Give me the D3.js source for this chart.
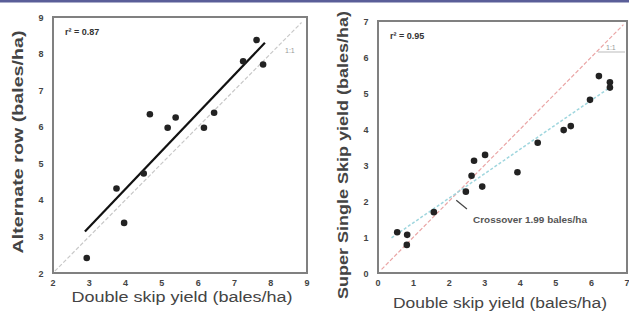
<!DOCTYPE html>
<html>
<head>
<meta charset="utf-8">
<script src="https://cdn.jsdelivr.net/npm/d3@7/dist/d3.min.js"></script>
<style>
  body { margin: 0; background: #fff; }
  svg { display: block; font-family: "Liberation Sans", Arial, sans-serif; }
</style>
</head>
<body>
<svg id="chart" width="629" height="320"></svg>
<script>
// left panel: double skip vs alternate row
var altX = [2.93, 3.75, 3.96, 4.5, 4.67, 5.16, 5.38, 6.16, 6.44, 7.24, 7.61, 7.79];
var altY = [2.41, 4.31, 3.37, 4.72, 6.34, 5.97, 6.25, 5.97, 6.38, 7.79, 8.37, 7.70];
var altFit = [0.14, 1.04];        // intercept, slope
var altFitRange = [2.88, 7.84];
var altTicks = [2, 3, 4, 5, 6, 7, 8, 9];

// right panel: double skip vs super single skip
var sssX = [0.54, 0.82, 0.81, 1.57, 2.47, 2.63, 2.70, 2.93, 3.01, 3.92, 4.49, 5.22, 5.42, 5.96, 6.21, 6.52, 6.52];
var sssY = [1.13, 1.06, 0.78, 1.69, 2.26, 2.70, 3.12, 2.40, 3.28, 2.80, 3.62, 3.97, 4.08, 4.81, 5.47, 5.30, 5.15];
var sssFit = [0.72, 0.68];
var sssFitRange = [0.38, 6.58];
var sssTicks = [0, 1, 2, 3, 4, 5, 6, 7];

var svg = d3.select('#chart');

// top band
svg.append('rect').attr('x', 0).attr('y', 0).attr('width', 629).attr('height', 2.5).attr('fill', '#5a5e98');

function drawPanel(opts) {
    var x = d3.scaleLinear().domain(opts.domain).range(opts.xRange);
    var y = d3.scaleLinear().domain(opts.domain).range(opts.yRange);
    var g = svg.append('g');

    // 1:1 line
    g.append('line')
        .attr('x1', x(opts.oneToOne[0])).attr('y1', y(opts.oneToOne[0]))
        .attr('x2', x(opts.oneToOne[1])).attr('y2', y(opts.oneToOne[1]))
        .attr('stroke', opts.oneColor).attr('stroke-width', 1.2)
        .attr('stroke-dasharray', '4,2');
    g.append('text')
        .attr('x', opts.oneLabel[0]).attr('y', opts.oneLabel[1])
        .attr('font-size', 7).attr('fill', '#999').text('1:1');

    // fitted line
    var fit = opts.fit;
    g.append('line')
        .attr('x1', x(opts.fitRange[0])).attr('y1', y(fit[0] + fit[1] * opts.fitRange[0]))
        .attr('x2', x(opts.fitRange[1])).attr('y2', y(fit[0] + fit[1] * opts.fitRange[1]))
        .attr('stroke', opts.fitColor).attr('stroke-width', opts.fitWidth)
        .attr('stroke-dasharray', opts.fitDash || null);

    // points
    g.selectAll('circle.pt')
        .data(opts.xs.map(function (d, i) { return [d, opts.ys[i]]; }))
        .enter().append('circle')
        .attr('class', 'pt')
        .attr('cx', function (d) { return x(d[0]); })
        .attr('cy', function (d) { return y(d[1]); })
        .attr('r', 3.3)
        .attr('fill', '#222');

    // frame
    g.append('rect')
        .attr('x', opts.xRange[0]).attr('y', opts.yRange[1])
        .attr('width', opts.xRange[1] - opts.xRange[0])
        .attr('height', opts.yRange[0] - opts.yRange[1])
        .attr('fill', 'none').attr('stroke', '#808080').attr('stroke-width', 2);

    // tick labels
    g.selectAll('text.xt').data(opts.ticks).enter().append('text')
        .attr('x', function (d) { return x(d); })
        .attr('y', opts.yRange[0] + 13)
        .attr('text-anchor', 'middle').attr('font-size', 9).attr('font-weight', 'bold')
        .attr('fill', '#444').text(function (d) { return d; });
    g.selectAll('text.yt').data(opts.ticks).enter().append('text')
        .attr('x', opts.xRange[0] - 12)
        .attr('y', function (d) { return y(d) + 3.5; })
        .attr('text-anchor', 'middle').attr('font-size', 9).attr('font-weight', 'bold')
        .attr('fill', '#444').text(function (d) { return d; });

    // r squared
    g.append('text')
        .attr('x', opts.xRange[0] + 12).attr('y', opts.yRange[1] + 18)
        .attr('font-size', 9).attr('font-weight', 'bold').attr('fill', '#333')
        .text(opts.r2);

    // axis titles
    g.append('text')
        .attr('x', opts.xTitle[0]).attr('y', opts.xTitle[1])
        .attr('text-anchor', 'middle').attr('font-size', 14).attr('fill', '#444')
        .attr('textLength', opts.xTitle[2]).attr('lengthAdjust', 'spacingAndGlyphs')
        .text('Double skip yield (bales/ha)');
    g.append('text')
        .attr('transform', 'translate(' + opts.yTitle[0] + ',' + opts.yTitle[1] + ') rotate(-90)')
        .attr('text-anchor', 'middle').attr('font-size', 15).attr('font-weight', 'bold').attr('fill', '#444')
        .attr('textLength', opts.yTitle[2]).attr('lengthAdjust', 'spacingAndGlyphs')
        .text(opts.yLabel);
    return { x: x, y: y, g: g };
}

drawPanel({
    domain: [2, 9], xRange: [53, 307], yRange: [273, 17],
    xs: altX, ys: altY, fit: altFit, fitRange: altFitRange,
    fitColor: '#111', fitWidth: 2.2,
    oneToOne: [2.05, 8.85], oneColor: '#c8c8c8', oneLabel: [285, 53],
    ticks: altTicks, r2: 'r\u00b2 = 0.87',
    xTitle: [182, 302, 221], yTitle: [23, 142, 223],
    yLabel: 'Alternate row (bales/ha)'
});

var right = drawPanel({
    domain: [0, 7], xRange: [378, 627], yRange: [273, 21],
    xs: sssX, ys: sssY, fit: sssFit, fitRange: sssFitRange,
    fitColor: '#9fd6de', fitWidth: 1.5, fitDash: '3,2',
    oneToOne: [0.1, 6.9], oneColor: '#eaa5a5', oneLabel: [606, 50],
    ticks: sssTicks, r2: 'r\u00b2 = 0.95',
    xTitle: [500, 308, 214], yTitle: [348, 155, 288],
    yLabel: 'Super Single Skip yield (bales/ha)'
});

// crossover annotation
right.g.append('path')
    .attr('d', d3.line()([[right.x(2.2), right.y(2.02)], [right.x(2.5), right.y(1.78)]]))
    .attr('stroke', '#444').attr('stroke-width', 1.2).attr('fill', 'none');
right.g.append('text')
    .attr('x', 473).attr('y', 223)
    .attr('font-size', 8.5).attr('font-weight', 'bold').attr('fill', '#555')
    .attr('textLength', 114).attr('lengthAdjust', 'spacingAndGlyphs')
    .text('Crossover 1.99 bales/ha');
right.g.append('line')
    .attr('x1', 598).attr('y1', 52).attr('x2', 625).attr('y2', 52)
    .attr('stroke', '#aaa').attr('stroke-width', 0.8);
</script>
</body>
</html>
